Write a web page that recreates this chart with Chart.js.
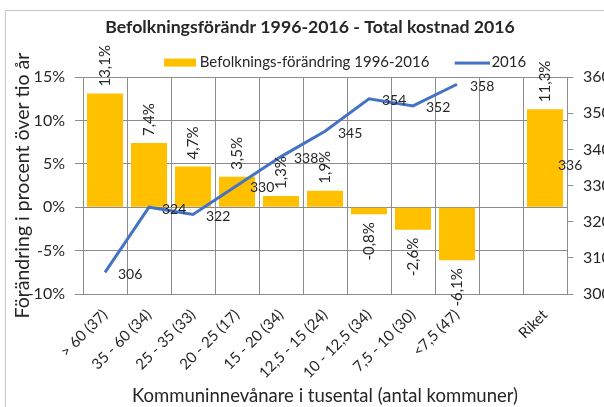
<!DOCTYPE html>
<html>
<head>
<meta charset="utf-8">
<script src="https://cdn.jsdelivr.net/npm/chart.js@4"></script>
<style>
  html, body { margin: 0; padding: 0; background: #fff; overflow: hidden; }
</style>
</head>
<body>
<canvas id="canvas" width="604" height="407"></canvas>
<script>
const categories = ['> 60 (37)', '35 - 60 (34)', '25 - 35 (33)', '20 - 25 (17)', '15 - 20 (34)',
  '12,5 - 15 (24)', '10 - 12,5 (34)', '7,5 - 10 (30)', '<7,5 (47)', '', 'Riket'];
const popChange = [13.1, 7.4, 4.7, 3.5, 1.3, 1.9, -0.8, -2.6, -6.1, null, 11.3];
const cost2016 = [306, 324, 322, 330, 338, 345, 354, 352, 358, null, 336];
const leftTicks = [-10, -5, 0, 5, 10, 15];
const rightTicks = [300, 310, 320, 330, 340, 350, 360];

const ORANGE = '#FFC000';
const BLUE = '#4472C4';
const GRID = '#8c8c8c';
const TXT = '#262626';
const FONT = 'Lato';

// legend swatches (Excel style: flat bar and a line)
function swatch(kind) {
  const c = document.createElement('canvas');
  c.width = kind === 'bar' ? 60 : 64;
  c.height = 10;
  const g = c.getContext('2d');
  g.fillStyle = kind === 'bar' ? ORANGE : BLUE;
  if (kind === 'bar') g.fillRect(28, 1, 32, 8);
  else g.fillRect(29, 4, 35, 3);
  return c;
}
const barSwatch = swatch('bar');
const lineSwatch = swatch('line');

const frame = {
  id: 'frame',
  afterLayout(chart) {
    // nudge legend and title to where Excel put them
    const lg = chart.legend;
    lg.left += 8; lg.right += 8;
    lg.top += 3; lg.bottom += 3;
    const tt = chart.titleBlock;
    tt.left += 8; tt.right += 8;
  },
  beforeDraw(chart) {
    const ctx = chart.ctx;
    ctx.save();
    ctx.fillStyle = '#fff';
    ctx.fillRect(0, 0, chart.width, chart.height);
    ctx.strokeStyle = '#c8c8c8';
    ctx.lineWidth = 1;
    ctx.strokeRect(5.5, 10.5, chart.width + 20, chart.height + 20);
    ctx.restore();
  }
};

const valueLabels = {
  id: 'valueLabels',
  afterDatasetsDraw(chart) {
    const ctx = chart.ctx;
    ctx.save();
    ctx.fillStyle = TXT;
    ctx.textBaseline = 'middle';
    ctx.font = '15px ' + FONT;
    chart.getDatasetMeta(0).data.forEach((bar, i) => {
      const v = popChange[i];
      if (v === null) return;
      const txt = v.toFixed(1).replace('.', ',') + '%';
      ctx.save();
      ctx.translate(bar.x, v >= 0 ? bar.y - 7 : bar.y + 8);
      ctx.rotate(-Math.PI / 2);
      ctx.textAlign = v >= 0 ? 'left' : 'right';
      ctx.fillText(txt, 0, 0);
      ctx.restore();
    });
    ctx.font = '14px ' + FONT;
    ctx.textAlign = 'left';
    chart.getDatasetMeta(1).data.forEach((pt, i) => {
      const v = cost2016[i];
      if (v === null) return;
      ctx.fillText(String(v), pt.x + 13, pt.y + 2);
    });
    ctx.restore();
  }
};

new Chart(document.getElementById('canvas'), {
  data: {
    labels: categories,
    datasets: [{
      type: 'bar',
      label: 'Befolknings-förändring 1996-2016',
      data: popChange,
      backgroundColor: ORANGE,
      borderWidth: 0,
      barPercentage: 0.82,
      categoryPercentage: 1,
      yAxisID: 'y',
      order: 1
    }, {
      type: 'line',
      label: '2016',
      data: cost2016,
      borderColor: BLUE,
      backgroundColor: BLUE,
      borderWidth: 3,
      pointRadius: 0,
      tension: 0,
      spanGaps: false,
      yAxisID: 'y1',
      order: 0
    }]
  },
  options: {
    responsive: false,
    animation: false,
    layout: { padding: 0 },
    plugins: {
      title: {
        display: true,
        text: 'Befolkningsförändr 1996-2016 - Total kostnad 2016',
        color: TXT,
        font: { family: FONT, size: 17.7, weight: 'bold' },
        padding: { top: 16.4, bottom: 12.4 }
      },
      legend: {
        fullSize: false,
        labels: {
          color: TXT,
          font: { family: FONT, size: 15 },
          padding: 2,
          usePointStyle: true,
          pointStyleWidth: 52.5,
          generateLabels(chart) {
            const items = Chart.defaults.plugins.legend.labels.generateLabels(chart);
            items.sort((a, b) => a.datasetIndex - b.datasetIndex);
            items.forEach(it => { it.pointStyle = it.datasetIndex === 0 ? barSwatch : lineSwatch; });
            return items;
          }
        }
      },
      tooltip: { enabled: false }
    },
    scales: {
      x: {
        grid: { color: GRID, offset: true, drawTicks: false },
        border: { color: GRID },
        ticks: {
          color: TXT,
          font: { family: FONT, size: 15 },
          autoSkip: false,
          maxRotation: 45,
          minRotation: 45,
          padding: 12
        },
        title: {
          display: true,
          text: 'Kommuninnevånare i tusental (antal kommuner)',
          color: TXT,
          font: { family: FONT, size: 18.5 },
          padding: { top: 0, bottom: 0 }
        },
        afterFit(s) { s.height = 113; }
      },
      y: {
        position: 'left',
        min: leftTicks[0],
        max: leftTicks[leftTicks.length - 1],
        grid: { color: GRID, tickLength: 8 },
        border: { color: GRID },
        ticks: {
          stepSize: 5,
          color: TXT,
          font: { family: FONT, size: 16 },
          padding: 10,
          callback: v => v + '%'
        },
        title: {
          display: true,
          text: 'Förändring i procent över tio år',
          color: TXT,
          font: { family: FONT, size: 19.5 },
          padding: { top: 11, bottom: 0 }
        },
        afterFit(s) { s.width = 83; }
      },
      y1: {
        position: 'right',
        min: rightTicks[0],
        max: rightTicks[rightTicks.length - 1],
        grid: { drawOnChartArea: false, color: GRID, tickLength: 6 },
        border: { color: GRID },
        ticks: {
          stepSize: 10,
          color: TXT,
          font: { family: FONT, size: 16 },
          padding: 10
        },
        afterFit(s) { s.width = 37; }
      }
    }
  },
  plugins: [frame, valueLabels]
});
</script>
</body>
</html>
